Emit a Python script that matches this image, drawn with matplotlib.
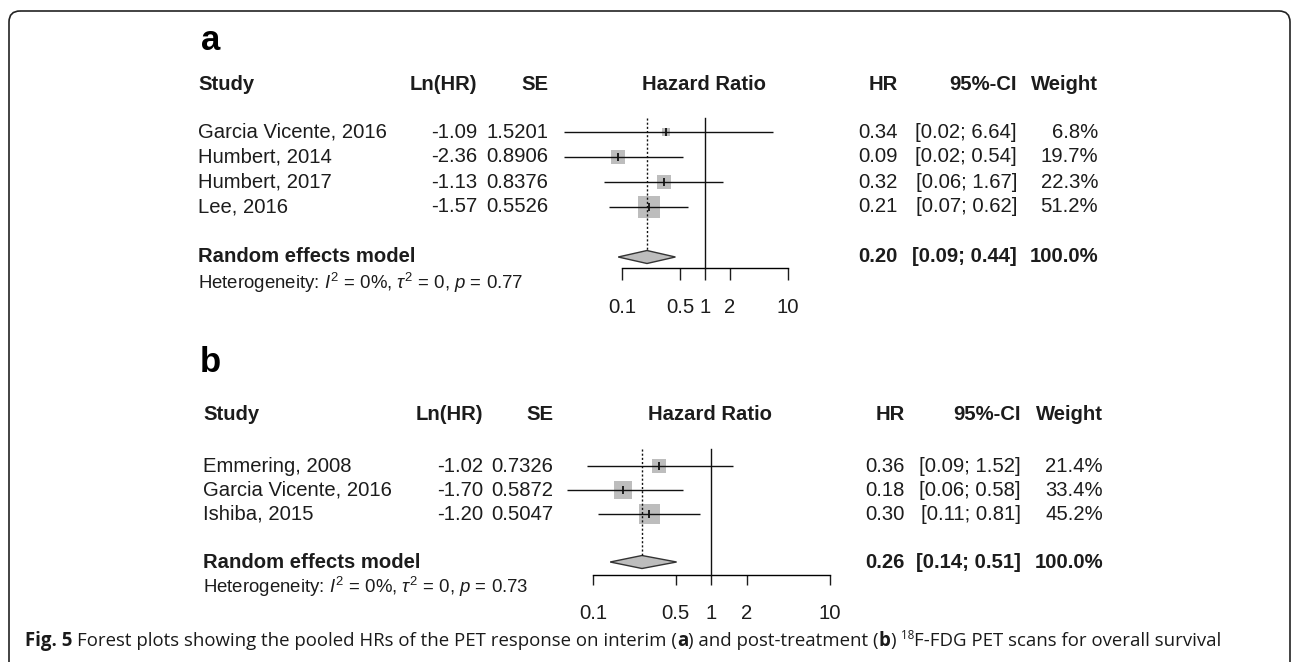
import matplotlib
matplotlib.use('Agg')
import matplotlib.pyplot as plt
from matplotlib.patches import FancyBboxPatch
from matplotlib.ticker import NullLocator, FixedLocator, FixedFormatter
import numpy as np

W, H, DPI = 1292, 662, 100
plt.rcParams['font.family'] = ['Liberation Sans', 'DejaVu Sans']
plt.rcParams['mathtext.fontset'] = 'custom'
plt.rcParams['mathtext.rm'] = 'Liberation Sans'
plt.rcParams['mathtext.it'] = 'Liberation Sans:italic'
plt.rcParams['mathtext.bf'] = 'Liberation Sans:bold'

# ---------------- data ----------------
a_studies = ["Garcia Vicente, 2016", "Humbert, 2014", "Humbert, 2017", "Lee, 2016"]
a_lnhr = [-1.09, -2.36, -1.13, -1.57]
a_se = [1.5201, 0.8906, 0.8376, 0.5526]
a_hr = [0.34, 0.09, 0.32, 0.21]
a_lower = [0.02, 0.02, 0.06, 0.07]
a_upper = [6.64, 0.54, 1.67, 0.62]
a_weight = [6.8, 19.7, 22.3, 51.2]
a_pooled = [0.20, 0.09, 0.44]
a_het = ["0%", "0", "0.77"]

b_studies = ["Emmering, 2008", "Garcia Vicente, 2016", "Ishiba, 2015"]
b_lnhr = [-1.02, -1.70, -1.20]
b_se = [0.7326, 0.5872, 0.5047]
b_hr = [0.36, 0.18, 0.30]
b_lower = [0.09, 0.06, 0.11]
b_upper = [1.52, 0.58, 0.81]
b_weight = [21.4, 33.4, 45.2]
b_pooled = [0.26, 0.14, 0.51]
b_het = ["0%", "0", "0.73"]

tick_vals = [0.1, 0.5, 1, 2, 10]
tick_labels = ["0.1", "0.5", "1", "2", "10"]

# ---------------- layout (pixels) ----------------
lay_a = dict(label='a', label_xy=(201, 41), header_y=84, row0=132, dy=25, rand_y=257, het_y=283,
             study_x=198, ln_x=477, se_x=548, hr_c=704, hr_x=898, ci_x=1017, w_x=1098,
             ax_left=539, ax_right=871, xlim=(0.01, 100), ax_top=110, ax_bottom=268,
             vtop=118, ticklen=12, pad=13)
lay_b = dict(label='b', label_xy=(200, 362), header_y=414, row0=466, dy=24, rand_y=562, het_y=587,
             study_x=203, ln_x=483, se_x=553, hr_c=710, hr_x=905, ci_x=1021, w_x=1103,
             ax_left=531, ax_right=886, xlim=(0.03, 30), ax_top=440, ax_bottom=575,
             vtop=449, ticklen=10, pad=14)

FS = 14.6
FS_HET = 13.4
TXT = '#1c1c1c'
SQ = '#bdbdbd'
K = 2.2  # square side (pt) per sqrt(weight)

fig = plt.figure(figsize=(W / DPI, H / DPI), dpi=DPI)
L = fig.add_axes([0, 0, 1, 1])
L.set_xlim(0, W)
L.set_ylim(H, 0)
L.axis('off')

# border
L.add_patch(FancyBboxPatch((9, 11), 1281, 720, boxstyle='round,pad=0,rounding_size=11',
                           fill=False, lw=1.2, ec='#222222'))


def panel(lay, studies, lnhr, se, hr, lower, upper, weight, pooled, het):
    row_of = lambda y: 1 + (y - lay['row0']) / lay['dy']
    n = len(studies)
    # labels / headers
    L.text(*lay['label_xy'], lay['label'], fontsize=25, weight='bold', ha='left', va='center', color='black')
    hy = lay['header_y']
    L.text(lay['study_x'], hy, "Study", fontsize=FS, weight='bold', ha='left', va='center', color=TXT)
    L.text(lay['ln_x'], hy, "Ln(HR)", fontsize=FS, weight='bold', ha='right', va='center', color=TXT)
    L.text(lay['se_x'], hy, "SE", fontsize=FS, weight='bold', ha='right', va='center', color=TXT)
    L.text(lay['hr_c'], hy, "Hazard Ratio", fontsize=FS, weight='bold', ha='center', va='center', color=TXT)
    L.text(lay['hr_x'], hy, "HR", fontsize=FS, weight='bold', ha='right', va='center', color=TXT)
    L.text(lay['ci_x'], hy, "95%-CI", fontsize=FS, weight='bold', ha='right', va='center', color=TXT)
    L.text(lay['w_x'], hy, "Weight", fontsize=FS, weight='bold', ha='right', va='center', color=TXT)
    for i in range(n):
        y = lay['row0'] + i * lay['dy']
        L.text(lay['study_x'], y, studies[i], fontsize=FS, ha='left', va='center', color=TXT)
        L.text(lay['ln_x'], y, f"{lnhr[i]:.2f}", fontsize=FS, ha='right', va='center', color=TXT)
        L.text(lay['se_x'], y, f"{se[i]:.4f}", fontsize=FS, ha='right', va='center', color=TXT)
        L.text(lay['hr_x'], y, f"{hr[i]:.2f}", fontsize=FS, ha='right', va='center', color=TXT)
        L.text(lay['ci_x'], y, f"[{lower[i]:.2f}; {upper[i]:.2f}]", fontsize=FS, ha='right', va='center', color=TXT)
        L.text(lay['w_x'], y, f"{weight[i]:.1f}%", fontsize=FS, ha='right', va='center', color=TXT)
    ry = lay['rand_y']
    L.text(lay['study_x'], ry, "Random effects model", fontsize=FS, weight='bold', ha='left', va='center', color=TXT)
    L.text(lay['hr_x'], ry, f"{pooled[0]:.2f}", fontsize=FS, weight='bold', ha='right', va='center', color=TXT)
    L.text(lay['ci_x'], ry, f"[{pooled[1]:.2f}; {pooled[2]:.2f}]", fontsize=FS, weight='bold', ha='right', va='center', color=TXT)
    L.text(lay['w_x'], ry, f"{sum(weight):.1f}%", fontsize=FS, weight='bold', ha='right', va='center', color=TXT)
    L.text(lay['study_x'], lay['het_y'],
           "Heterogeneity: $I^2$ = " + het[0] + r", $\tau^2$ = " + het[1] + ", $p$ = " + het[2],
           fontsize=FS_HET, ha='left', va='center', color=TXT)

    # forest axes
    ax = fig.add_axes([lay['ax_left'] / W, 1 - lay['ax_bottom'] / H,
                       (lay['ax_right'] - lay['ax_left']) / W, (lay['ax_bottom'] - lay['ax_top']) / H])
    ax.set_facecolor('none')
    ax.set_xscale('log')
    ax.set_xlim(*lay['xlim'])
    ybot, ytop = row_of(lay['ax_bottom']), row_of(lay['ax_top'])
    ax.set_ylim(ybot, ytop)
    for s in ['top', 'left', 'right']:
        ax.spines[s].set_visible(False)
    ax.spines['bottom'].set_bounds(tick_vals[0], tick_vals[-1])
    ax.spines['bottom'].set_linewidth(1.0)
    ax.xaxis.set_major_locator(FixedLocator(tick_vals))
    ax.xaxis.set_major_formatter(FixedFormatter(tick_labels))
    ax.xaxis.set_minor_locator(NullLocator())
    ax.set_yticks([])
    ax.tick_params(axis='x', direction='out', length=lay['ticklen'] * 72 / DPI, width=1.0,
                   labelsize=FS, pad=lay['pad'], colors=TXT)

    rows = np.arange(1, n + 1)
    ax.scatter(hr, rows, marker='s', s=[(K * np.sqrt(w)) ** 2 for w in weight], color=SQ,
               edgecolors='none', zorder=2)
    for i in range(n):
        ax.plot([lower[i], upper[i]], [rows[i], rows[i]], color='#111111', lw=1.0, zorder=3,
                solid_capstyle='butt')
    ax.plot(hr, rows, linestyle='none', marker='|', markersize=6, markeredgewidth=1.3,
            color='#111111', zorder=4)
    rrow = row_of(lay['rand_y'])
    hh = 6.5 / lay['dy']
    ax.fill([pooled[1], pooled[0], pooled[2], pooled[0]], [rrow, rrow - hh, rrow, rrow + hh],
            facecolor=SQ, edgecolor='#333333', lw=1.0, zorder=3)
    vt = row_of(lay['vtop'])
    ax.plot([1, 1], [vt, ybot], color='#111111', lw=1.0, zorder=3, clip_on=False)
    ax.plot([pooled[0], pooled[0]], [vt, rrow - hh], color='#111111', lw=1.0, ls=(0, (1.5, 1.5)),
            zorder=3)


panel(lay_a, a_studies, a_lnhr, a_se, a_hr, a_lower, a_upper, a_weight, a_pooled, a_het)
panel(lay_b, b_studies, b_lnhr, b_se, b_hr, b_lower, b_upper, b_weight, b_pooled, b_het)

# ---------------- caption ----------------
caption_runs = [("Fig. 5", 'bold', False, True),
                ("Forest plots showing the pooled HRs of the PET response on interim (", 'normal', False, False),
                ("a", 'bold', False, False),
                (") and post-treatment (", 'normal', False, False),
                ("b", 'bold', False, False),
                (")", 'normal', False, True),
                ("18", 'normal', True, False),
                ("F-FDG PET scans for overall survival", 'normal', False, False)]
CAP_FAMILY = ['Open Sans', 'DejaVu Sans']
renderer = fig.canvas.get_renderer()


def draw_caption(x0, base, size, keep=True):
    x = x0
    made = []
    sp = L.text(0, 0, "a a", fontsize=size, family=CAP_FAMILY)
    sp2 = L.text(0, 0, "aa", fontsize=size, family=CAP_FAMILY)
    space = sp.get_window_extent(renderer).width - sp2.get_window_extent(renderer).width
    sp.remove(); sp2.remove()
    for text, wt, sup, trailing_space in caption_runs:
        fs = size * 0.62 if sup else size
        yy = base - size * 0.55 if sup else base
        t = L.text(x, yy, text, fontsize=fs, weight=wt, family=CAP_FAMILY, ha='left', va='baseline',
                   color='#1a1a1a')
        x += t.get_window_extent(renderer).width
        if trailing_space:
            x += space
        made.append(t)
    if not keep:
        for t in made:
            t.remove()
    return x - x0


w0 = draw_caption(25, 645, 14, keep=False)
size = 14 * (1228 - 25) / w0
draw_caption(25, 646, size)

fig.savefig('out.png', dpi=DPI)
